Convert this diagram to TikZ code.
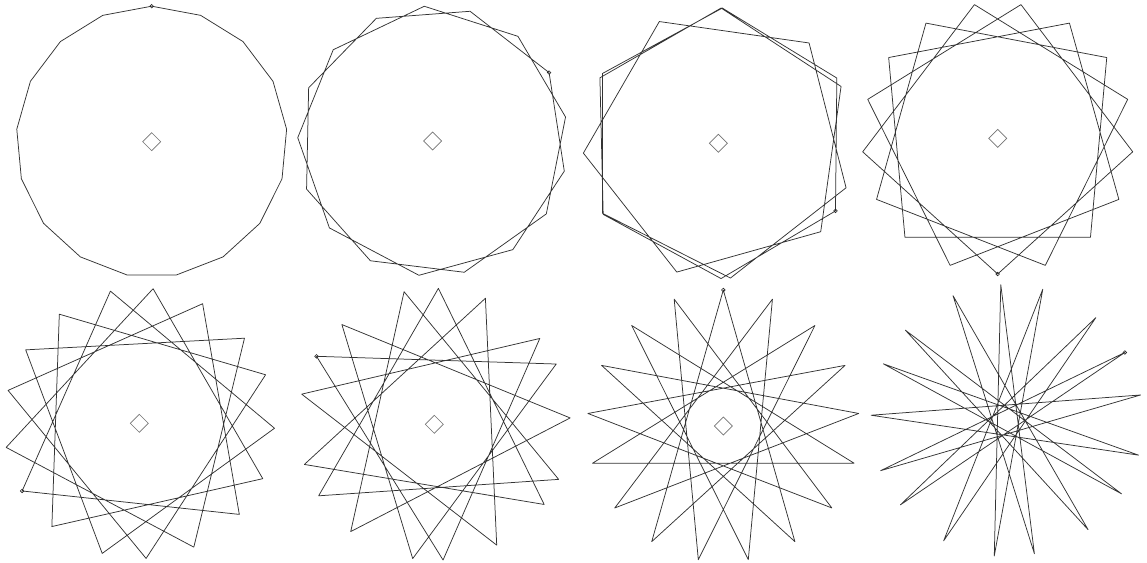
\documentclass[tikz,border=0pt]{standalone}
\begin{document}
\begin{tikzpicture}[x=1pt,y=-1pt,
  starline/.style={line width=0.75pt, draw=black!80, line join=round},
  startmark/.style={line width=0.6pt, draw=black!85},
  centremark/.style={line width=0.7pt, draw=black!55}]
\useasboundingbox (0,0) rectangle (1147,562);
\newcommand\starpanel[7]{%
  % #1 name, #2 cx, #3 cy, #4 radius, #5 start angle, #6 step k, #7 hexagonal distortion
  \foreach \j in {0,...,16}{%
    \pgfmathtruncatemacro\mm{mod(#6*\j,17)}%
    \pgfmathsetmacro\thR{#5+360*\mm/17}%
    \pgfmathsetmacro\thA{\thR-#7*sin(6*(\thR-30))}%
    \coordinate (#1-\j) at ({#2+#4*cos(\thA)},{#3-#4*sin(\thA)});%
  }%
  \draw[starline] (#1-0) \foreach \j in {1,...,16}{ -- (#1-\j) } -- cycle;%
  \draw[startmark] (#1-0) circle[radius=1.8];%
}
\newcommand\centrediamond[2]{%
  \draw[centremark] (#1-9,#2) -- (#1,#2-9) -- (#1+9,#2) -- (#1,#2+9) -- cycle;%
}
% top row
\starpanel{sa}{151.7}{141.7}{135.5}{90}{1}{0}
\centrediamond{151.7}{141.7}
\starpanel{sb}{432.7}{141}{135}{30.5}{2}{1.1}
\centrediamond{432.7}{141}
\starpanel{sc}{718.3}{143.3}{135.3}{-30}{3}{13}
\centrediamond{718.3}{143.3}
\starpanel{sd}{997.7}{138.3}{135.7}{-90}{4}{0.8}
\centrediamond{997.7}{138.3}
% bottom row
\starpanel{se}{139.3}{423.3}{135.3}{-150}{5}{1.8}
\centrediamond{139.3}{423.3}
\starpanel{sf}{434.3}{424.3}{136}{150}{6}{5}
\centrediamond{434.3}{424.3}
\starpanel{sg}{723.3}{426}{136}{90}{7}{0}
\centrediamond{723.3}{426}
\starpanel{sh}{1007}{420.5}{136}{30}{8}{2.5}
\end{tikzpicture}
\end{document}
